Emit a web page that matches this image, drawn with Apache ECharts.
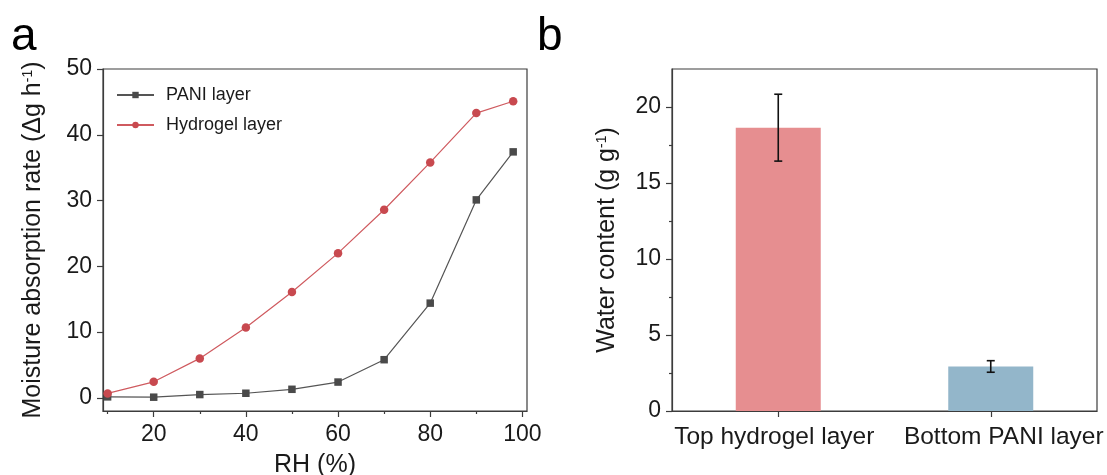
<!DOCTYPE html>
<html>
<head>
<meta charset="utf-8">
<script src="https://cdn.jsdelivr.net/npm/echarts@6/dist/echarts.min.js"></script>
<style>
  html, body { margin: 0; padding: 0; background: #fff; }
  #chart { width: 1107px; height: 475px; }
</style>
</head>
<body>
<div id="chart"></div>
<script>
// Panel a: moisture absorption rate vs relative humidity
const rhLevels = [10, 20, 30, 40, 50, 60, 70, 80, 90, 98];
const paniRate = [0.15, 0.1, 0.5, 0.7, 1.3, 2.4, 5.8, 14.4, 30.1, 37.4];
const hydrogelRate = [0.67, 2.44, 6.0, 10.7, 16.1, 22.0, 28.6, 35.8, 43.3, 45.1];
const rhMajorTicks = [20, 40, 60, 80, 100];
const rhMinorTicks = [10, 30, 50, 70, 90];
const rateTicks = [0, 10, 20, 30, 40, 50];

// Panel b: water content of each layer (mean and error)
const layerNames = ['Top hydrogel layer', 'Bottom PANI layer'];
const waterContent = [18.64, 2.93];
const waterContentErr = [2.2, 0.38];
const contentTicks = [0, 5, 10, 15, 20];
const contentMinorTicks = [2.5, 7.5, 12.5, 17.5];

const FONT = 'Liberation Sans, Arial, sans-serif';
const INK = '#1a1a1a';
const FRAME = '#3c3c3c';

const chart = echarts.init(document.getElementById('chart'), null, { renderer: 'canvas' });

const barColors = ['#E68E90', '#93B6CA'];
const errData = layerNames.map((n, i) => [i, waterContent[i] - waterContentErr[i], waterContent[i] + waterContentErr[i]]);

const tickStyle = { color: FRAME, width: 1.2 };
const supStyle = { fontSize: 14, color: INK, fontFamily: FONT, verticalAlign: 'top', lineHeight: 16 };
const catLabelStyle = { fontSize: 24.5, color: INK, fontFamily: FONT };

const option = {
  animation: false,
  backgroundColor: '#fff',
  textStyle: { fontFamily: FONT },
  graphic: [
    { type: 'text', left: 11, top: 14, style: { text: 'a', font: '46px ' + FONT, fill: '#000' } },
    { type: 'text', left: 537, top: 14, style: { text: 'b', font: '46px ' + FONT, fill: '#000' } }
  ],
  legend: {
    data: ['PANI layer', 'Hydrogel layer'],
    orient: 'vertical',
    left: 111,
    top: 81,
    itemWidth: 37,
    itemHeight: 8,
    itemGap: 12,
    textStyle: { fontSize: 18, color: INK, fontFamily: FONT, padding: [0, 0, 0, 7] }
  },
  grid: [
    { left: 103, right: 580, top: 69, bottom: 64, outerBoundsMode: 'none', containLabel: false, show: true, borderColor: FRAME, borderWidth: 1.2, backgroundColor: 'transparent' },
    { left: 672, right: 10, top: 69, bottom: 64, outerBoundsMode: 'none', containLabel: false, show: true, borderColor: FRAME, borderWidth: 1.2, backgroundColor: 'transparent' }
  ],
  xAxis: [
    {
      type: 'value', gridIndex: 0, min: 9, max: 101,
      name: 'RH (%)', nameLocation: 'middle', nameGap: 42,
      nameTextStyle: { fontSize: 25, color: INK, fontFamily: FONT },
      axisLine: { show: true, onZero: false, lineStyle: tickStyle },
      axisTick: { show: true, inside: false, customValues: rhMajorTicks, length: 6, lineStyle: tickStyle },
      axisLabel: { customValues: rhMajorTicks, fontSize: 23, color: INK, margin: 12, fontFamily: FONT },
      splitLine: { show: false }
    },
    {
      type: 'value', gridIndex: 0, min: 9, max: 101, position: 'bottom',
      axisLine: { show: false, onZero: false },
      axisTick: { show: true, inside: false, customValues: rhMinorTicks, length: 3, lineStyle: tickStyle },
      axisLabel: { show: false },
      splitLine: { show: false }
    },
    {
      type: 'category', gridIndex: 1, data: layerNames,
      axisLine: { show: true, onZero: false, lineStyle: tickStyle },
      axisTick: { show: true, inside: false, alignWithLabel: true, length: 6, lineStyle: tickStyle },
      axisLabel: {
        interval: 0, margin: 14,
        formatter: function (value, index) { return '{c' + index + '|' + value + '}'; },
        rich: {
          c0: Object.assign({ padding: [0, 8, 0, 0] }, catLabelStyle),
          c1: Object.assign({ padding: [0, 0, 0, 26] }, catLabelStyle)
        }
      },
      splitLine: { show: false }
    }
  ],
  yAxis: [
    {
      type: 'value', gridIndex: 0, min: -2, max: 50,
      name: 'Moisture absorption rate (Δg h{sup|-1})', nameLocation: 'middle', nameGap: 57,
      nameTextStyle: { fontSize: 25, color: INK, fontFamily: FONT, rich: { sup: supStyle } },
      axisLine: { show: true, onZero: false, lineStyle: tickStyle },
      axisTick: { show: true, inside: false, customValues: rateTicks, length: 6, lineStyle: tickStyle },
      axisLabel: { customValues: rateTicks, fontSize: 23, color: INK, margin: 11, fontFamily: FONT },
      splitLine: { show: false }
    },
    {
      type: 'value', gridIndex: 1, min: 0, max: 22.5,
      name: 'Water content (g g{sup|-1})', nameLocation: 'middle', nameGap: 52,
      nameTextStyle: { fontSize: 25, color: INK, fontFamily: FONT, rich: { sup: supStyle } },
      axisLine: { show: true, onZero: false, lineStyle: tickStyle },
      axisTick: { show: true, inside: false, customValues: contentTicks, length: 6, lineStyle: tickStyle },
      axisLabel: { customValues: contentTicks, fontSize: 23, color: INK, margin: 11, fontFamily: FONT },
      splitLine: { show: false }
    },
    {
      type: 'value', gridIndex: 1, min: 0, max: 22.5, position: 'left',
      axisLine: { show: false, onZero: false },
      axisTick: { show: true, inside: false, customValues: contentMinorTicks, length: 3, lineStyle: tickStyle },
      axisLabel: { show: false },
      splitLine: { show: false }
    }
  ],
  series: [
    {
      name: 'PANI layer', type: 'line', xAxisIndex: 0, yAxisIndex: 0,
      data: rhLevels.map((x, i) => [x, paniRate[i]]),
      symbol: 'rect', symbolSize: 7.5,
      lineStyle: { color: '#555555', width: 1.2 },
      itemStyle: { color: '#4a4a4a' },
      z: 3
    },
    {
      name: 'Hydrogel layer', type: 'line', xAxisIndex: 0, yAxisIndex: 0,
      data: rhLevels.map((x, i) => [x, hydrogelRate[i]]),
      symbol: 'circle', symbolSize: 8.5,
      lineStyle: { color: '#CF5A5F', width: 1.2 },
      itemStyle: { color: '#C8494F' },
      z: 4
    },
    {
      name: 'Water content', type: 'bar', xAxisIndex: 2, yAxisIndex: 1,
      barWidth: '40%',
      data: waterContent.map((v, i) => ({ value: v, itemStyle: { color: barColors[i] } }))
    },
    {
      name: 'Error', type: 'custom', xAxisIndex: 2, yAxisIndex: 1,
      data: errData,
      encode: { x: 0, y: [1, 2] },
      z: 5,
      renderItem: function (params, api) {
        const lo = api.coord([api.value(0), api.value(1)]);
        const hi = api.coord([api.value(0), api.value(2)]);
        const cap = 4;
        const style = { stroke: '#111', lineWidth: 1.6 };
        return {
          type: 'group',
          children: [
            { type: 'line', shape: { x1: hi[0], y1: hi[1], x2: lo[0], y2: lo[1] }, style: style },
            { type: 'line', shape: { x1: hi[0] - cap, y1: hi[1], x2: hi[0] + cap, y2: hi[1] }, style: style },
            { type: 'line', shape: { x1: lo[0] - cap, y1: lo[1], x2: lo[0] + cap, y2: lo[1] }, style: style }
          ]
        };
      }
    }
  ]
};

chart.setOption(option);
</script>
</body>
</html>
